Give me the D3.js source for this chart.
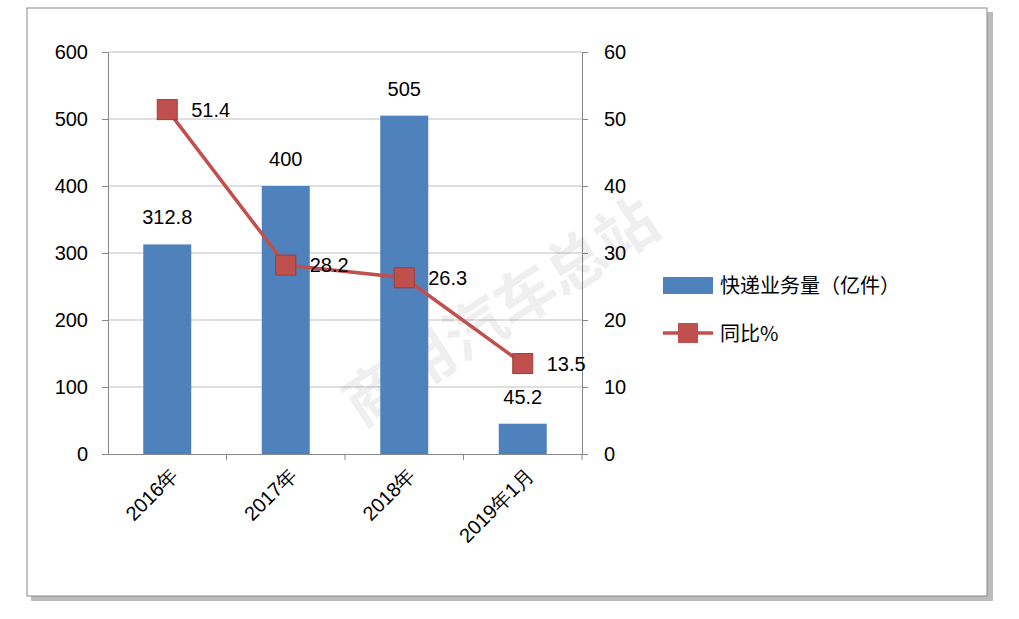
<!DOCTYPE html>
<html><head><meta charset="utf-8">
<script src="https://cdn.jsdelivr.net/npm/d3@7"></script>
<style>body{margin:0;background:#fff}text{font-family:"Liberation Sans",Arial,sans-serif}</style>
</head><body><div id="chart"></div>
<script>
const categories = ["2016年", "2017年", "2018年", "2019年1月"];
const volume = [312.8, 400, 505, 45.2];
const yoy = [51.4, 28.2, 26.3, 13.5];
const leftTicks = [0, 100, 200, 300, 400, 500, 600];
const rightTicks = [0, 10, 20, 30, 40, 50, 60];

const W = 1019, H = 619;
const svg = d3.select("#chart").append("svg").attr("width", W).attr("height", H);

// frame with shadow
svg.append("rect").attr("x", 31).attr("y", 12).attr("width", 962).attr("height", 589).attr("fill", "#bbb");
svg.append("rect").attr("x", 27).attr("y", 8).attr("width", 960).attr("height", 588)
    .attr("fill", "#fff").attr("stroke", "#888").attr("stroke-width", 1);

const pLeft = 108, pRight = 582, pTop = 52, pBottom = 454;
const x = d3.scaleBand().domain(categories).range([pLeft, pRight]);
const yL = d3.scaleLinear().domain([0, 600]).range([pBottom, pTop]);
const yR = d3.scaleLinear().domain([0, 60]).range([pBottom, pTop]);

// grid
svg.selectAll(".grid").data(leftTicks.slice(1)).enter().append("line")
    .attr("x1", pLeft).attr("x2", pRight).attr("y1", d => yL(d)).attr("y2", d => yL(d))
    .attr("stroke", "#bfbfbf");

const axL = svg.append("g").attr("transform", `translate(${pLeft},0)`)
    .call(d3.axisLeft(yL).tickValues(leftTicks).tickSize(6).tickPadding(14));
const axR = svg.append("g").attr("transform", `translate(${pRight},0)`)
    .call(d3.axisRight(yR).tickValues(rightTicks).tickSize(6).tickPadding(16));
const axX = svg.append("g").attr("transform", `translate(0,${pBottom})`)
    .call(d3.axisBottom(x).tickSize(6).tickSizeOuter(0));
axX.selectAll(".tick line").attr("transform", `translate(${x.bandwidth() / 2},0)`);
[axL, axR, axX].forEach(a => {
    a.selectAll("path,line").attr("stroke", "#888");
    a.selectAll("text").attr("font-size", 20).attr("fill", "#000")
        .style("font-family", "'Liberation Sans',Arial,sans-serif");
});
axX.selectAll("text").attr("text-anchor", "end").attr("dy", 0)
    .attr("transform", "translate(6,16) rotate(-45)");

// watermark
svg.append("text").attr("transform", "translate(512,330) rotate(-33)")
    .attr("text-anchor", "middle").attr("font-size", 60).attr("fill", "#000").attr("opacity", 0.06)
    .style("font-family", "'Noto Sans CJK SC'").attr("font-weight", "bold").text("商用汽车总站");

// bars
const bw = 48;
svg.selectAll(".bar").data(volume).enter().append("rect")
    .attr("x", (d, i) => x(categories[i]) + x.bandwidth() / 2 - bw / 2)
    .attr("y", d => yL(d)).attr("width", bw).attr("height", d => pBottom - yL(d))
    .attr("fill", "#4f81bd");
svg.selectAll(".blab").data(volume).enter().append("text")
    .attr("x", (d, i) => x(categories[i]) + x.bandwidth() / 2).attr("y", d => yL(d) - 20)
    .attr("text-anchor", "middle").attr("font-size", 20).text(d => d);

// line
const cx = i => x(categories[i]) + x.bandwidth() / 2;
svg.append("path").datum(yoy)
    .attr("d", d3.line().x((d, i) => cx(i)).y(d => yR(d)))
    .attr("fill", "none").attr("stroke", "#c0504d").attr("stroke-width", 3.5);
svg.selectAll(".pt").data(yoy).enter().append("rect")
    .attr("x", (d, i) => cx(i) - 10).attr("y", d => yR(d) - 10).attr("width", 20).attr("height", 20)
    .attr("fill", "#c0504d").attr("stroke", "#a03c3a");
svg.selectAll(".llab").data(yoy).enter().append("text")
    .attr("x", (d, i) => cx(i) + 24).attr("y", d => yR(d) + 7)
    .attr("font-size", 20).text(d => d);

// legend
svg.append("rect").attr("x", 663).attr("y", 277).attr("width", 50).attr("height", 17).attr("fill", "#4f81bd");
svg.append("text").attr("x", 720).attr("y", 293).attr("font-size", 20)
    .style("font-family", "'Noto Sans CJK SC'").text("快递业务量（亿件）");
svg.append("line").attr("x1", 663).attr("x2", 713).attr("y1", 333).attr("y2", 333)
    .attr("stroke", "#c0504d").attr("stroke-width", 3.5);
svg.append("rect").attr("x", 678).attr("y", 323).attr("width", 20).attr("height", 20).attr("fill", "#c0504d");
svg.append("text").attr("x", 720).attr("y", 341).attr("font-size", 20)
    .style("font-family", "'Noto Sans CJK SC'").text("同比%");
</script></body></html>
